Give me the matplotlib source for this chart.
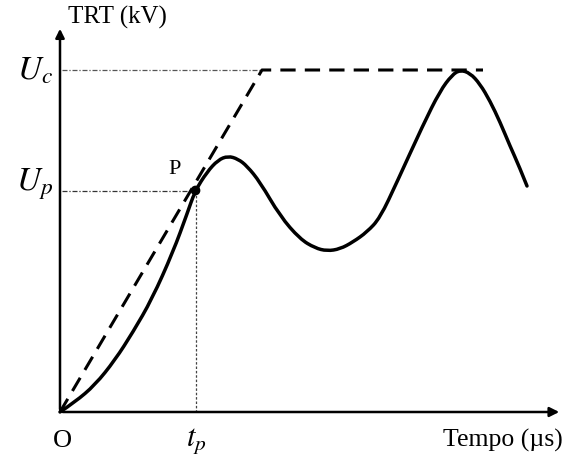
import matplotlib.pyplot as plt
from matplotlib.path import Path
from matplotlib.patches import PathPatch

# curva da TRT (unidades arbitrárias)
curve_t = [0, 15, 35, 55, 73, 92, 113, 127, 135, 147, 158, 168, 178, 187, 200,
           220, 240, 255, 267, 280, 293, 307, 320, 337, 363, 380, 392, 400, 410,
           420, 430, 440, 450, 459, 467]
curve_v = [0, 10, 27, 52, 80, 113, 160, 198, 221, 240, 252, 256, 253, 246, 230,
           196, 173, 164, 161, 163, 170, 180, 194, 230, 287, 321, 337, 342, 339,
           328, 311, 290, 266, 246, 226]

# envoltória tracejada
env_t = [0, 202, 423]
env_v = [0, 342, 342]

Uc = 342
Up = 221
tp = 136
P_t, P_v = 135, 222

plt.rcParams['font.family'] = ['Liberation Serif', 'DejaVu Serif']

fig = plt.figure(figsize=(5.72, 4.60), dpi=100)
ax = fig.add_axes([0, 0, 1, 1])
ax.set_xlim(-60, 512)
ax.set_ylim(-47, 413)
ax.axis('off')

# eixos com setas
ax.annotate('', xy=(502, 0), xytext=(0, 0),
            arrowprops=dict(arrowstyle='-|>', lw=1.8, color='black', mutation_scale=14))
ax.annotate('', xy=(0, 386), xytext=(0, 0),
            arrowprops=dict(arrowstyle='-|>', lw=1.8, color='black', mutation_scale=13))

# linhas de referência
ax.plot([2, env_t[1]], [Uc, Uc], color='#555555', lw=0.9, linestyle=(0, (4, 1.5, 1, 1.5)))
ax.plot([2, P_t], [Up, Up], color='#333333', lw=0.9, linestyle=(0, (4, 1.5, 1, 1.5)))
ax.plot([tp, tp], [Up, 0], color='#444444', lw=0.9, linestyle=(0, (2, 1.5)))

# envoltória
ax.plot(env_t, env_v, color='black', lw=2.2, linestyle=(0, (5, 3)))

# curva suavizada (b-spline quadrática sobre os pontos lidos)
pts = list(zip(curve_t, curve_v))
verts = [pts[0]]
codes = [Path.MOVETO]
for i in range(1, len(pts) - 1):
    if i < len(pts) - 2:
        end = ((pts[i][0] + pts[i + 1][0]) / 2, (pts[i][1] + pts[i + 1][1]) / 2)
    else:
        end = pts[-1]
    verts += [pts[i], end]
    codes += [Path.CURVE3, Path.CURVE3]
ax.add_patch(PathPatch(Path(verts, codes), facecolor='none', edgecolor='black',
                       lw=2.5, capstyle='round'))
ax.plot([P_t], [P_v], 'o', color='black', markersize=6)

# textos
ax.text(8, 384, 'TRT (kV)', fontsize=18, ha='left', va='bottom')
ax.text(-7, Uc, r'$U_c$', fontsize=24, ha='right', va='center',
        math_fontfamily='stix')
ax.text(-7, Up + 8, r'$U_p$', fontsize=24, ha='right', va='center',
        math_fontfamily='stix')
ax.text(115, 243, 'P', fontsize=16, ha='center', va='center')
ax.text(2, -28, 'O', fontsize=19, ha='center', va='center')
ax.text(tp, -28, r'$t_p$', fontsize=22, ha='center', va='center',
        math_fontfamily='stix')
ax.text(443, -27, 'Tempo (µs)', fontsize=18.5, ha='center', va='center')

fig.savefig('out.png', dpi=100, facecolor='white')
